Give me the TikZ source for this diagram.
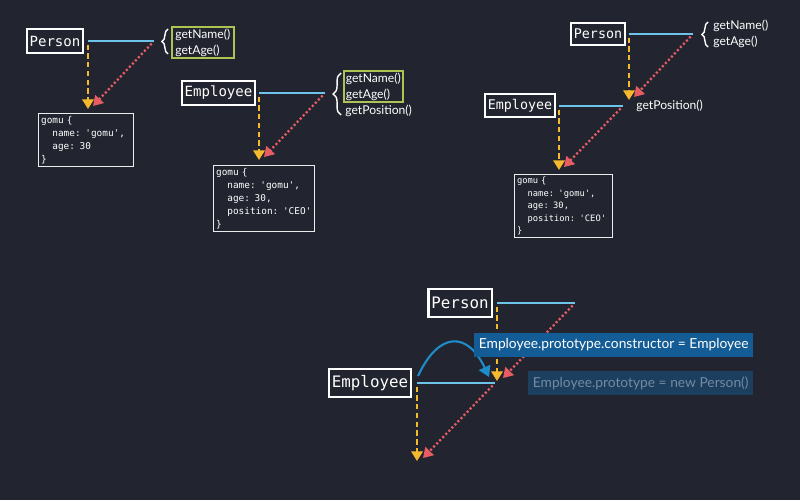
\documentclass[tikz,border=0pt]{standalone}
\usepackage{fontspec}
\setmainfont{Lato}
\setmonofont{DejaVu Sans Mono}
\usetikzlibrary{arrows.meta,decorations.pathreplacing}

\definecolor{bg}{RGB}{34,37,47}
\definecolor{protoblue}{RGB}{110,195,235}
\definecolor{inhorange}{RGB}{245,185,45}
\definecolor{linkred}{RGB}{232,92,100}
\definecolor{methgreen}{RGB}{175,195,85}
\definecolor{ctorblue}{RGB}{30,140,200}
\definecolor{lblblue}{RGB}{20,92,150}
\definecolor{lbldark}{RGB}{28,62,95}
\definecolor{lblgrey}{RGB}{115,138,162}

\tikzset{
  cls/.style={draw=white, line width=1.2pt, text=white, inner xsep=0.06cm, inner ysep=0pt,
    minimum height=0.48cm, font=\ttfamily\fontsize{#1}{#1}\selectfont},
  cls/.default=8,
  obj/.style={draw=white!85!gray, line width=0.7pt, text=white, anchor=north west,
    inner xsep=0.05cm, inner ysep=0.05cm, align=left, font=\ttfamily\fontsize{5.35}{7.4}\selectfont},
  meth/.style={text=white, align=left, inner sep=0.04cm, font=\fontsize{6.9}{9}\selectfont},
  proto/.style={protoblue, line width=1.2pt},
  inh/.style={inhorange, line width=1.2pt, dash pattern=on 3pt off 2pt, shorten <=2pt,
    -{Triangle[width=6.5pt,length=5.5pt]}},
  link/.style={linkred, line width=1.3pt, dash pattern=on 1.2pt off 1.3pt, shorten <=2pt,
    -{Triangle[width=6.5pt,length=5.5pt]}},
  brc/.style={white, line width=0.8pt, decorate, decoration={brace, amplitude=#1}},
  lbl/.style={anchor=west, minimum height=0.4cm, inner xsep=0.09cm, font=\fontsize{7.85}{9}\selectfont},
}

\begin{document}
\begin{tikzpicture}[x=0.02cm, y=-0.02cm]
\fill[bg] (0,0) rectangle (800,500);
\useasboundingbox (0,0) rectangle (800,500);

% Person alone
\node[cls] (p1) at (55,41) {Person};
\coordinate (p1a) at (88,41);
\coordinate (p1b) at (154,41);
\coordinate (g1) at (88,109);
\coordinate (g1r) at (93,106);
\draw[proto] (p1a) -- (p1b);
\draw[inh] (p1a) -- (g1);
\draw[link] (p1b) -- (g1r);
\draw[brc=3.5pt] (168,54) -- (168,29);
\node[meth, draw=methgreen, line width=1pt, inner xsep=0.07cm, anchor=north west] (m1) at (171,26) {getName()\\getAge()};
\node[obj, text width=1.8cm] (o1) at (38,113)
  {gomu \{\\\hspace*{1.2em}name: 'gomu',\\\hspace*{1.2em}age: 30\\\}};

% Employee alone
\node[cls] (e2) at (218.5,93) {Employee};
\coordinate (e2a) at (259,93);
\coordinate (e2b) at (325,93);
\coordinate (g2) at (259,160);
\coordinate (g2r) at (264,157);
\draw[proto] (e2a) -- (e2b);
\draw[inh] (e2a) -- (g2);
\draw[link] (e2b) -- (g2r);
\draw[brc=4.5pt] (341,115) -- (341,73);
\node[meth, draw=methgreen, line width=1pt, anchor=north west] (m2) at (343,70) {getName()\\getAge()};
\node[meth, anchor=north west] (m2p) at (m2.south west) {getPosition()};
\node[obj, text width=1.92cm] (o2) at (213,165)
  {gomu \{\\\hspace*{1.2em}name: 'gomu',\\\hspace*{1.2em}age: 30,\\\hspace*{1.2em}position: 'CEO'\\\}};

% Employee under Person
\node[cls=7.6, minimum height=0.44cm] (p3) at (598,34) {Person};
\coordinate (p3a) at (629,34);
\coordinate (p3b) at (693,34);
\coordinate (g3) at (629,100);
\coordinate (g3r) at (634,97);
\draw[proto] (p3a) -- (p3b);
\draw[inh] (p3a) -- (g3);
\draw[link] (p3b) -- (g3r);
\draw[brc=3.5pt] (708,47) -- (708,22);
\node[meth, anchor=west] (m3) at (711,34) {getName()\\getAge()};
\node[cls=7.6, minimum height=0.46cm] (e3) at (520,105.5) {Employee};
\coordinate (e3a) at (559,106);
\coordinate (e3b) at (623,106);
\coordinate (h3) at (559,170);
\coordinate (h3r) at (564,167);
\draw[proto] (e3a) -- (e3b);
\draw[inh] (e3a) -- (h3);
\draw[link] (e3b) -- (h3r);
\node[meth, anchor=west] (m3p) at (634,106) {getPosition()};
\node[obj, text width=1.86cm, font=\ttfamily\fontsize{5}{7.1}\selectfont] (o3) at (514,174)
  {gomu \{\\\hspace*{1.2em}name: 'gomu',\\\hspace*{1.2em}age: 30,\\\hspace*{1.2em}position: 'CEO'\\\}};

% prototype link
\node[cls=9, minimum height=0.56cm] (p4) at (460,303) {Person};
\coordinate (p4a) at (497,303);
\coordinate (p4b) at (575,303);
\coordinate (g4) at (497,381);
\coordinate (g4r) at (503,378);
\draw[proto] (p4a) -- (p4b);
\draw[inh] (p4a) -- (g4);
\draw[link] (p4b) -- (g4r);
\node[cls=9, minimum height=0.56cm] (e4) at (370,383) {Employee};
\coordinate (e4a) at (417,383);
\coordinate (e4b) at (495,383);
\coordinate (h4) at (417,461);
\coordinate (h4r) at (423,458);
\draw[proto] (e4a) -- (e4b);
\draw[inh] (e4a) -- (h4);
\draw[link] (e4b) -- (h4r);
\coordinate (c4s) at (418,376);
\coordinate (c4e) at (489,377);
\draw[ctorblue, line width=1.2pt, -{Triangle[width=7pt,length=6pt]}]
  (c4s) to[out=65, in=115, looseness=1.8] (c4e);
\node[lbl, fill=lblblue, text=white] (l1) at (474,345) {Employee.prototype.constructor = Employee};
\node[lbl, fill=lbldark, text=lblgrey] (l2) at (528,383) {Employee.prototype = new Person()};
\end{tikzpicture}
\end{document}
